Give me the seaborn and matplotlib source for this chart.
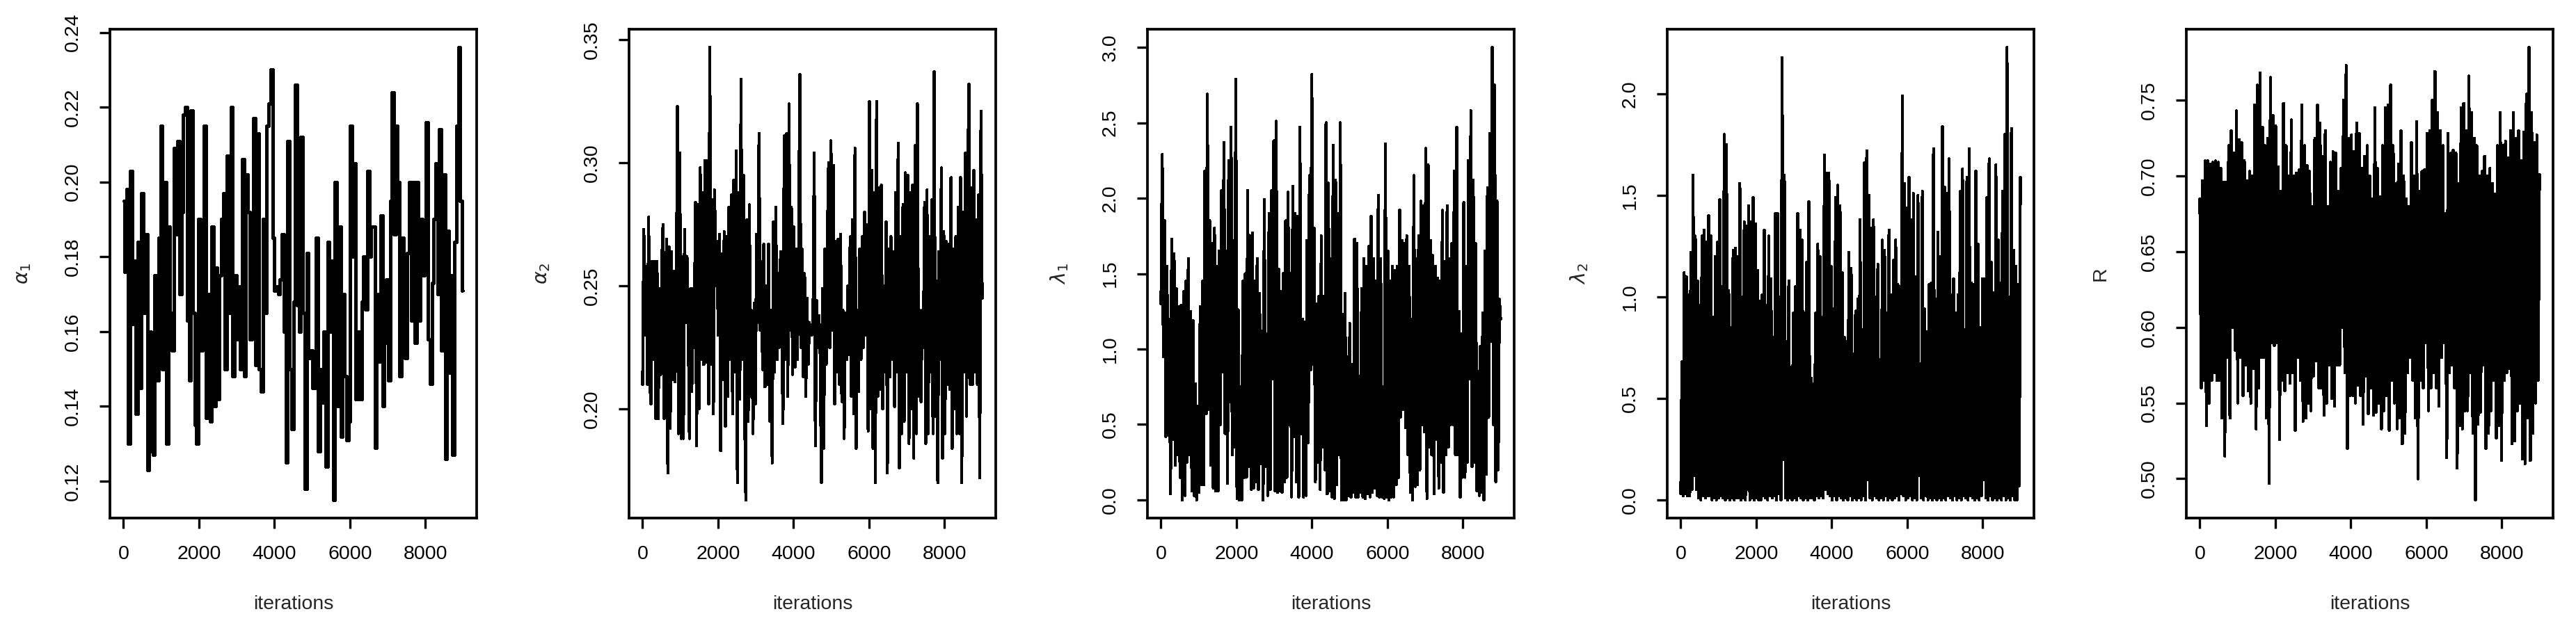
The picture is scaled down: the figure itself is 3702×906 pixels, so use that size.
import numpy as np
import matplotlib
matplotlib.use('Agg')
import matplotlib.pyplot as plt
import seaborn as sns

# MCMC 반복 수
n_iter = 9000

# 그림에서 읽은 trace 값 (왼쪽 -> 오른쪽 순서)
alpha1 = [
    0.195, 0.176, 0.198, 0.130, 0.203, 0.162, 0.179, 0.138, 0.184, 0.145,
    0.197, 0.165, 0.186, 0.123, 0.160, 0.128, 0.127, 0.175, 0.147, 0.185,
    0.215, 0.150, 0.200, 0.130, 0.188, 0.165, 0.155, 0.209, 0.186, 0.211,
    0.170, 0.192, 0.218, 0.220, 0.163, 0.147, 0.219, 0.165, 0.135, 0.130,
    0.190, 0.155, 0.178, 0.215, 0.137, 0.170, 0.136, 0.188, 0.140, 0.177,
    0.142, 0.175, 0.190, 0.197, 0.150, 0.207, 0.165, 0.220, 0.148, 0.175,
    0.158, 0.172, 0.150, 0.206, 0.148, 0.202, 0.192, 0.158, 0.187, 0.217,
    0.151, 0.213, 0.150, 0.144, 0.190, 0.165, 0.215, 0.221, 0.230, 0.185,
    0.171, 0.172, 0.170, 0.174, 0.186, 0.160, 0.125, 0.211, 0.150, 0.134,
    0.168, 0.226, 0.167, 0.160, 0.212, 0.165, 0.118, 0.181, 0.153, 0.155,
    0.145, 0.145, 0.185, 0.128, 0.150, 0.141, 0.160, 0.124, 0.184, 0.160,
    0.179, 0.115, 0.200, 0.140, 0.188, 0.132, 0.170, 0.148, 0.131, 0.136,
    0.215, 0.180, 0.205, 0.142, 0.160, 0.142, 0.168, 0.180, 0.166, 0.203,
    0.180, 0.188, 0.188, 0.129, 0.170, 0.152, 0.191, 0.140, 0.157, 0.174,
    0.147, 0.195, 0.224, 0.186, 0.215, 0.200, 0.148, 0.185, 0.165, 0.153,
    0.181, 0.200, 0.163, 0.200, 0.157, 0.200, 0.163, 0.190, 0.175, 0.186,
    0.216, 0.158, 0.146, 0.173, 0.190, 0.205, 0.170, 0.214, 0.155, 0.202,
    0.126, 0.187, 0.149, 0.175, 0.127, 0.184, 0.215, 0.236, 0.195, 0.171,
]

alpha2 = [
    0.210, 0.273, 0.230, 0.258, 0.210, 0.278, 0.210,
    0.202, 0.260, 0.220, 0.260, 0.196, 0.260, 0.196,
    0.249, 0.214, 0.260, 0.275, 0.196, 0.243, 0.269,
    0.174, 0.266, 0.192, 0.264, 0.212, 0.256,
    0.211, 0.236, 0.323, 0.190, 0.304, 0.188, 0.262,
    0.188, 0.273, 0.235, 0.262, 0.234, 0.188,
    0.249, 0.207, 0.249, 0.225, 0.284, 0.185, 0.283,
    0.200, 0.298, 0.220, 0.288, 0.218, 0.301, 0.219, 0.301,
    0.202, 0.347, 0.218, 0.285, 0.198, 0.289, 0.250,
    0.268, 0.230, 0.271, 0.183, 0.263, 0.212, 0.272,
    0.193, 0.270, 0.205, 0.282, 0.220, 0.287,
    0.198, 0.293, 0.215, 0.305, 0.170, 0.288,
    0.204, 0.334, 0.220, 0.295, 0.200,
    0.163, 0.277, 0.195, 0.283, 0.205, 0.240, 0.190,
    0.243, 0.202, 0.271, 0.235, 0.312, 0.232,
    0.260, 0.216, 0.267, 0.209, 0.250, 0.210, 0.267,
    0.195, 0.240, 0.178, 0.276, 0.215, 0.282,
    0.220, 0.255, 0.225, 0.264, 0.230, 0.194, 0.311,
    0.220, 0.312, 0.205, 0.324, 0.232, 0.282,
    0.214, 0.274, 0.217, 0.265, 0.220, 0.263,
    0.336, 0.225, 0.265, 0.213, 0.255, 0.205,
    0.245, 0.218, 0.235, 0.230, 0.230, 0.232, 0.304,
    0.185, 0.244, 0.225, 0.238, 0.222,
    0.170, 0.249, 0.184, 0.265, 0.218, 0.270,
    0.300, 0.225, 0.309, 0.232, 0.299, 0.202, 0.268,
    0.215, 0.269, 0.210, 0.271, 0.203, 0.240,
    0.188, 0.239, 0.220, 0.250, 0.222, 0.270,
    0.205, 0.277, 0.198, 0.306, 0.184, 0.240,
    0.207, 0.265, 0.220, 0.270, 0.225, 0.280,
    0.230, 0.275, 0.191, 0.325, 0.200, 0.297,
    0.184, 0.288, 0.170, 0.325, 0.205, 0.290,
    0.208, 0.291, 0.200, 0.250, 0.215, 0.276,
    0.174, 0.265, 0.213, 0.270, 0.220, 0.264,
    0.201, 0.288, 0.215, 0.308, 0.176, 0.270,
    0.190, 0.283, 0.195, 0.296, 0.215, 0.295,
    0.186, 0.288, 0.200, 0.291, 0.180, 0.307,
    0.190, 0.324, 0.205, 0.240, 0.203, 0.240,
    0.225, 0.284, 0.186, 0.289, 0.190, 0.270,
    0.215, 0.285, 0.190, 0.337, 0.197, 0.252,
    0.170, 0.264, 0.220, 0.298, 0.180, 0.272,
    0.190, 0.268, 0.210, 0.267, 0.208,
    0.294, 0.184, 0.265, 0.200, 0.270,
    0.190, 0.282, 0.190, 0.294, 0.170,
    0.280, 0.215, 0.304, 0.197, 0.295,
    0.332, 0.210, 0.290, 0.210, 0.297, 0.215,
    0.277, 0.210, 0.287, 0.172, 0.321, 0.245,
]

lambda1 = [
    1.30, 2.29, 0.95, 1.85, 0.42, 1.55, 0.43, 1.20, 0.04,
    1.73, 0.40, 1.63, 0.23, 1.40, 0.30, 1.28, 0.15, 1.29, 0.00,
    1.38, 0.03, 1.45, 0.25, 1.60, 0.30, 1.25, 0.06, 1.19, 0.03,
    0.77, 0.00, 0.62, 0.05, 1.28, 0.10, 1.45, 0.10,
    2.18, 0.57, 2.69, 0.60, 1.85, 0.23,
    1.70, 0.08, 1.80, 0.06, 1.55, 0.06, 1.65,
    0.50, 2.05, 0.85, 2.37, 0.44, 1.65,
    0.11, 2.25, 0.65, 2.47, 0.30, 1.72,
    0.35, 2.79, 0.01, 1.26, 0.00, 0.75, 0.00,
    1.45, 0.15, 1.50, 0.15, 2.05, 0.22,
    1.75, 0.07, 1.77, 0.08, 1.45, 0.12,
    1.60, 0.07, 1.37, 0.24, 1.12, 0.00,
    1.99, 0.22, 1.10, 0.03, 1.90, 0.07,
    2.05, 0.80, 2.38, 0.06, 2.51, 0.05,
    1.53, 0.06, 1.38, 0.05, 1.50, 0.12,
    1.85, 0.15, 2.04, 0.50, 1.50, 0.02,
    2.08, 0.42, 1.90, 0.12, 1.88, 0.02,
    2.47, 0.44, 1.20, 0.02, 1.18, 0.03,
    1.72, 0.38, 2.15, 0.86, 2.82, 0.90,
    1.80, 0.12, 1.30, 0.25, 1.35, 0.07,
    1.75, 0.35, 1.35, 0.20, 2.50, 0.04,
    2.10, 0.06, 1.60, 0.02, 2.35, 0.01,
    2.12, 0.10, 1.90, 0.30, 2.50, 0.00,
    1.23, 0.00, 1.37, 0.00, 0.95, 0.03,
    1.17, 0.02, 0.90, 0.05, 1.73, 0.02,
    1.70, 0.02, 0.82, 0.05, 1.40, 0.02,
    1.60, 0.01, 1.55, 0.04, 1.68, 0.02,
    1.88, 0.05, 1.60, 0.08, 1.45, 0.03,
    2.02, 0.02, 1.60, 0.02, 0.75, 0.01,
    2.36, 0.02, 1.65, 0.00, 1.45, 0.02,
    1.55, 0.02, 1.52, 0.10, 1.55, 0.15,
    1.92, 0.55, 1.72, 0.60, 1.70, 0.48,
    1.75, 0.30, 1.55, 0.05, 1.20, 0.00,
    2.15, 0.09, 1.60, 0.10, 1.75, 0.20,
    1.98, 0.50, 1.95, 0.45, 2.33, 0.01,
    2.22, 0.35, 1.72, 0.30, 1.62, 0.04,
    1.55, 0.40, 1.47, 0.08, 1.45, 0.25,
    1.92, 0.05, 1.58, 0.30, 1.95, 0.35,
    1.60, 0.50, 1.70, 0.50, 2.18, 0.30,
    2.47, 0.30, 1.25, 0.02, 1.10, 0.15,
    1.97, 0.15, 1.55, 0.25, 2.25, 0.80,
    2.58, 0.22, 2.12, 0.25, 1.70, 0.06,
    0.85, 0.03, 1.02, 0.05, 1.24, 0.00,
    1.65, 0.17, 2.07, 0.55, 2.43, 1.05,
    3.00, 0.50, 2.75, 0.12, 1.98, 0.20, 1.33, 1.20,
]

lambda2 = [
    0.03, 0.68, 0.02, 1.12, 0.03, 1.10, 0.02, 1.01,
    0.02, 1.22, 0.05, 1.60, 0.12, 1.30, 0.05, 1.08,
    0.01, 0.96, 0.00, 1.30, 0.02, 1.33, 0.01, 1.27,
    0.02, 1.40, 0.02, 1.30, 0.00, 0.90, 0.01,
    1.20, 0.00, 1.27, 0.01, 1.48, 0.02, 1.05,
    0.01, 1.80, 0.00, 1.75, 0.01, 1.03, 0.00,
    0.85, 0.01, 1.23, 0.00, 1.24, 0.01, 1.20,
    0.01, 1.56, 0.00, 1.00, 0.01, 1.37, 0.00,
    1.35, 0.05, 1.45, 0.00, 1.37, 0.01, 1.49,
    0.00, 1.36, 0.01, 1.13, 0.00, 0.98, 0.00, 1.01,
    0.02, 1.33, 0.01, 0.96, 0.00, 1.30, 0.02, 1.09,
    0.01, 0.80, 0.02, 1.41, 0.00, 1.41, 0.03,
    1.00, 0.00, 2.18, 0.20, 1.60, 0.01,
    0.78, 0.00, 1.08, 0.01, 0.63, 0.00,
    0.92, 0.01, 1.05, 0.00, 1.41, 0.02, 1.33,
    0.01, 1.28, 0.00, 0.92, 0.01, 1.17, 0.00, 1.47,
    0.01, 0.60, 0.01, 0.57, 0.00, 0.92, 0.02,
    1.26, 0.01, 1.20, 0.02, 0.90, 0.01,
    1.70, 0.05, 1.61, 0.03, 1.61, 0.02,
    1.15, 0.00, 0.94, 0.02, 1.49, 0.00,
    1.55, 0.02, 1.45, 0.01, 1.12, 0.00,
    0.80, 0.01, 0.78, 0.00, 1.22, 0.02,
    1.14, 0.00, 0.72, 0.01, 0.93, 0.00,
    0.99, 0.01, 1.38, 0.00, 0.84, 0.02,
    1.66, 0.00, 1.72, 0.10, 1.50, 0.01,
    1.34, 0.00, 1.38, 0.02, 1.00, 0.01,
    1.16, 0.00, 0.60, 0.01, 1.28, 0.00,
    1.23, 0.02, 0.92, 0.00, 1.33, 0.01,
    1.01, 0.00, 1.18, 0.01, 1.28, 0.02,
    1.06, 0.00, 1.05, 0.03, 1.99, 0.02,
    1.56, 0.00, 1.44, 0.01, 1.59, 0.02,
    1.38, 0.00, 1.51, 0.01, 1.10, 0.00,
    1.50, 0.12, 0.67, 0.01, 1.52, 0.00,
    0.94, 0.02, 0.83, 0.00, 1.06, 0.01,
    1.07, 0.00, 1.73, 0.01, 0.99, 0.00, 1.32,
    0.01, 1.20, 0.00, 1.84, 0.01, 1.54, 0.00, 1.51,
    0.02, 1.68, 0.01, 1.01, 0.00, 1.09, 0.02,
    0.92, 0.00, 1.01, 0.01, 1.52, 0.00, 1.63,
    0.02, 0.84, 0.01, 1.59, 0.00, 1.73, 0.02, 1.07,
    0.01, 1.06, 0.00, 1.62, 0.01, 1.26, 0.00, 0.85,
    0.02, 1.09, 0.10, 1.09, 0.01, 1.49, 0.00,
    1.68, 0.02, 1.17, 0.00, 1.02, 0.01,
    1.65, 0.00, 1.28, 0.01, 1.07, 0.00,
    1.52, 0.02, 1.80, 0.00, 2.23, 0.01,
    1.00, 0.00, 1.83, 0.02, 1.23, 0.00,
    1.15, 0.00, 1.06, 0.07, 1.59,
]

r_vals = [
    0.685, 0.560, 0.697, 0.565, 0.710, 0.535, 0.710,
    0.550, 0.708, 0.565, 0.709, 0.570, 0.710, 0.565,
    0.709, 0.565, 0.705, 0.540, 0.696, 0.515, 0.696,
    0.580, 0.720, 0.540, 0.730, 0.600, 0.715, 0.585, 0.743,
    0.550, 0.724, 0.580, 0.722, 0.555, 0.710,
    0.575, 0.697, 0.558, 0.703, 0.550, 0.700, 0.573,
    0.747, 0.533, 0.760, 0.560, 0.768, 0.580, 0.732,
    0.580, 0.720, 0.540, 0.725, 0.497, 0.765, 0.590,
    0.740, 0.588, 0.733, 0.590, 0.706, 0.526,
    0.690, 0.565, 0.748, 0.558, 0.720, 0.570,
    0.700, 0.563, 0.737, 0.570, 0.700, 0.532,
    0.702, 0.580, 0.704, 0.565, 0.747, 0.538,
    0.720, 0.540, 0.707, 0.550, 0.703, 0.545,
    0.680, 0.568, 0.725, 0.578, 0.747, 0.560,
    0.735, 0.560, 0.713, 0.542, 0.730, 0.550,
    0.680, 0.575, 0.709, 0.553, 0.716, 0.548,
    0.715, 0.575, 0.690, 0.575, 0.705, 0.600,
    0.750, 0.570, 0.773, 0.520, 0.725, 0.555,
    0.727, 0.555, 0.716, 0.550, 0.735, 0.562,
    0.728, 0.555, 0.705, 0.536, 0.713, 0.568,
    0.720, 0.543, 0.700, 0.560, 0.685, 0.542,
    0.745, 0.544, 0.705, 0.550,
    0.686, 0.533, 0.720, 0.545, 0.745, 0.555,
    0.747, 0.532, 0.760, 0.565, 0.720, 0.550,
    0.695, 0.533, 0.708, 0.540, 0.730, 0.523,
    0.700, 0.530, 0.685, 0.570, 0.680, 0.580,
    0.722, 0.565, 0.700, 0.540, 0.736, 0.500,
    0.690, 0.565, 0.703, 0.560, 0.704, 0.590,
    0.728, 0.545, 0.730, 0.560, 0.750, 0.570,
    0.769, 0.560, 0.742, 0.548, 0.730, 0.580,
    0.720, 0.590, 0.675, 0.514, 0.728, 0.570,
    0.715, 0.575, 0.717, 0.560, 0.715, 0.507,
    0.695, 0.535, 0.745, 0.533, 0.748, 0.545,
    0.730, 0.545, 0.766, 0.570, 0.742,
    0.530, 0.725, 0.486, 0.720, 0.536,
    0.700, 0.544, 0.703, 0.575, 0.713, 0.520,
    0.700, 0.530, 0.705, 0.545, 0.695, 0.565,
    0.688, 0.527, 0.720, 0.535, 0.742, 0.512,
    0.720, 0.565, 0.723, 0.570, 0.712, 0.573,
    0.730, 0.523, 0.742, 0.525, 0.725, 0.545,
    0.730, 0.550, 0.710, 0.513, 0.729, 0.510,
    0.754, 0.540, 0.785, 0.512,
    0.742, 0.530, 0.722, 0.550, 0.727, 0.565, 0.701,
]

# 축 눈금
x_ticks = [0, 2000, 4000, 6000, 8000]
alpha1_ticks = ['0.12', '0.14', '0.16', '0.18', '0.20', '0.22', '0.24']
alpha2_ticks = ['0.20', '0.25', '0.30', '0.35']
lambda1_ticks = ['0.0', '0.5', '1.0', '1.5', '2.0', '2.5', '3.0']
lambda2_ticks = ['0.0', '0.5', '1.0', '1.5', '2.0']
r_ticks = ['0.50', '0.55', '0.60', '0.65', '0.70', '0.75']

panels = [
    (alpha1, r'$\alpha_1$', alpha1_ticks),
    (alpha2, r'$\alpha_2$', alpha2_ticks),
    (lambda1, r'$\lambda_1$', lambda1_ticks),
    (lambda2, r'$\lambda_2$', lambda2_ticks),
    (r_vals, 'R', r_ticks),
]

sns.set_style('ticks')
plt.rcParams['font.family'] = ['Liberation Sans', 'DejaVu Sans']
plt.rcParams['mathtext.fontset'] = 'dejavusans'

W, H = 3702, 906
fig = plt.figure(figsize=(W / 100, H / 100), dpi=100)
lefts = [158, 904, 1649, 2396, 3142]
lw = 2.4

for i, (vals, label, yt) in enumerate(panels):
    ax = fig.add_axes([lefts[i] / W, 161 / H, 527 / W, 703 / H])
    x = np.linspace(1, n_iter, len(vals))
    style = 'steps-mid' if i == 0 else 'default'
    sns.lineplot(x=x, y=vals, ax=ax, color='black', linewidth=lw,
                 estimator=None, drawstyle=style, antialiased=False)

    # R 기본 축 범위 (4% 확장)
    lo, hi = min(vals), max(vals)
    pad = 0.04 * (hi - lo)
    ax.set_ylim(lo - pad, hi + pad)
    ax.set_xlim(1 - 0.04 * (n_iter - 1), n_iter + 0.04 * (n_iter - 1))

    ax.set_xticks(x_ticks)
    ax.set_xticklabels([str(t) for t in x_ticks])
    ax.set_yticks([float(t) for t in yt])
    ax.set_yticklabels(yt, rotation=90, va='center')

    ax.tick_params(axis='both', direction='out', length=10.8, width=lw,
                   labelsize=20.5, color='black', labelcolor='black')
    ax.tick_params(axis='x', pad=17)
    ax.tick_params(axis='y', pad=18)
    for sp in ax.spines.values():
        sp.set_visible(True)
        sp.set_linewidth(2.7)
        sp.set_color('black')

    ax.set_xlabel('iterations', fontsize=20.5)
    ax.set_ylabel(label, fontsize=20.5)
    ax.xaxis.set_label_coords(0.5, -0.158)
    ax.yaxis.set_label_coords(-0.21, 0.5)

fig.savefig('out.png', dpi=100, facecolor='white')
